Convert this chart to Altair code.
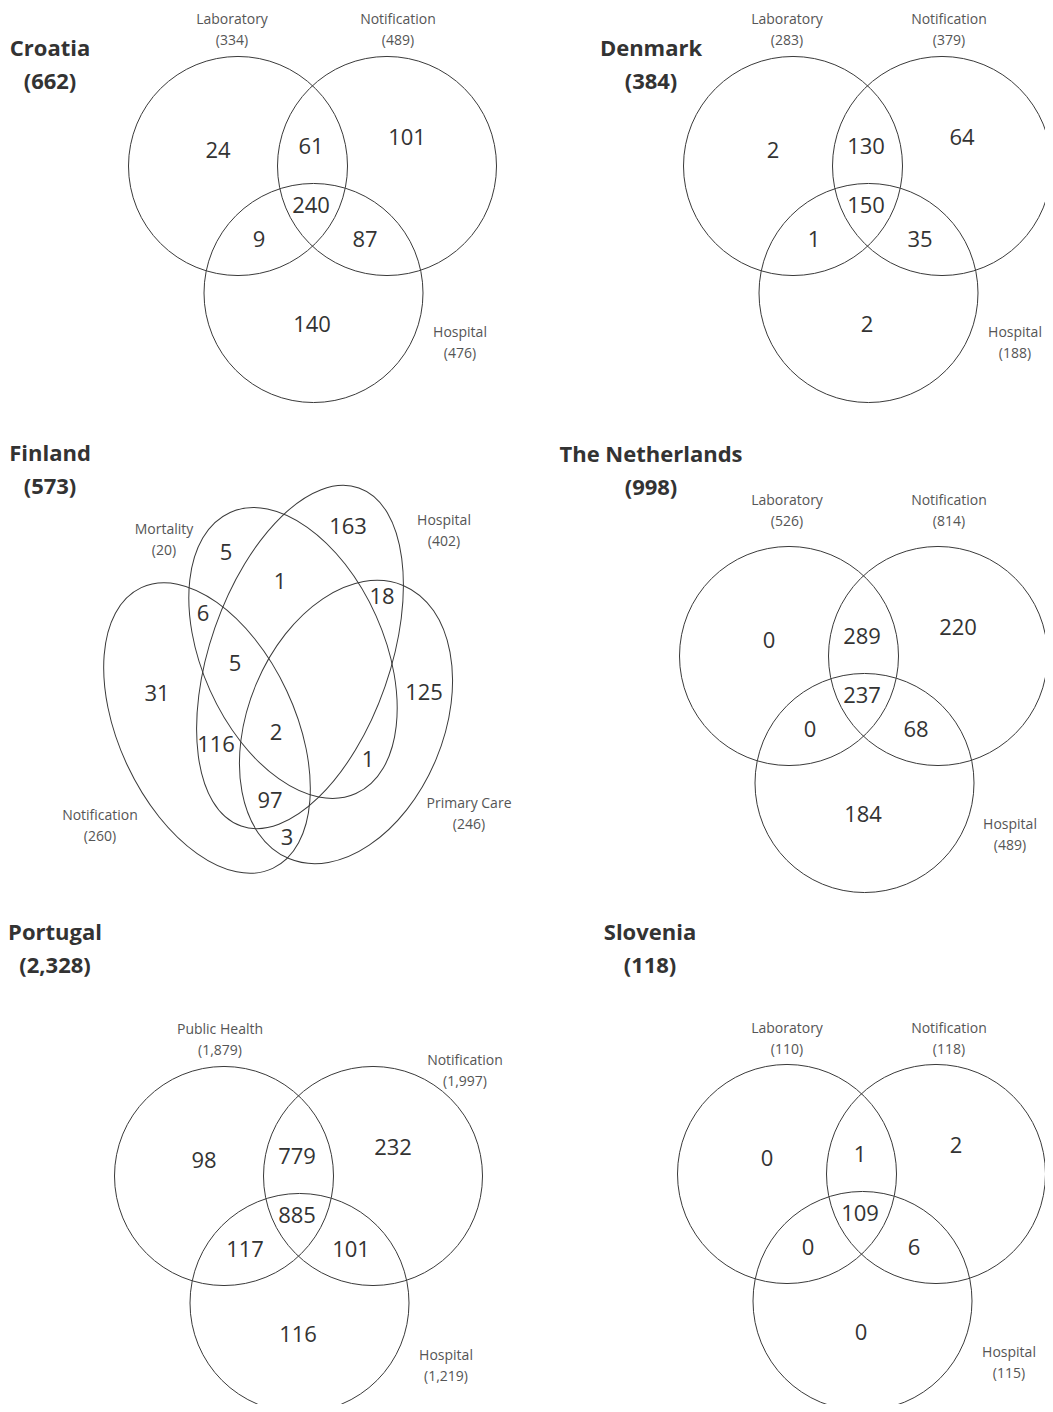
import altair as alt
import pandas as pd

# ---------------- data ----------------
countries = ["Croatia", "Denmark", "Finland", "The Netherlands", "Portugal", "Slovenia"]
country_totals = [662, 384, 573, 998, 2328, 118]

# three-set panels: regions ordered A only, A&B, B only, A&B&C, A&C, B&C, C only
croatia_sets = ["Laboratory", "Notification", "Hospital"]
croatia_set_sizes = [334, 489, 476]
croatia_regions = [24, 61, 101, 240, 9, 87, 140]

denmark_sets = ["Laboratory", "Notification", "Hospital"]
denmark_set_sizes = [283, 379, 188]
denmark_regions = [2, 130, 64, 150, 1, 35, 2]

netherlands_sets = ["Laboratory", "Notification", "Hospital"]
netherlands_set_sizes = [526, 814, 489]
netherlands_regions = [0, 289, 220, 237, 0, 68, 184]

portugal_sets = ["Public Health", "Notification", "Hospital"]
portugal_set_sizes = [1879, 1997, 1219]
portugal_regions = [98, 779, 232, 885, 117, 101, 116]

slovenia_sets = ["Laboratory", "Notification", "Hospital"]
slovenia_set_sizes = [110, 118, 115]
slovenia_regions = [0, 1, 2, 109, 0, 6, 0]

# four-set panel
finland_sets = ["Mortality", "Hospital", "Notification", "Primary Care"]
finland_set_sizes = [20, 402, 260, 246]
finland_regions = [5, 163, 1, 18, 6, 5, 31, 125, 2, 116, 1, 97, 3]

# ---------------- layout (page pixels) ----------------
COL_X = [8, 530]
COL_W = [522, 515]
ROW_Y = [8, 425, 905]
ROW_H = [417, 480, 499]

FONT = "Open Sans"
LINE = "#3a3a3a"
NUM_COLOR = "#333333"
LAB_COLOR = "#555555"
TITLE_COLOR = "#333333"

R3 = 109.5
CIRCLE_OFFSETS = [(0, 0), (149, 0), (75.5, 127)]
REGION_OFFSETS = [(-20, -15), (73, -19), (169, -28), (73, 40), (21, 74), (127, 74), (74, 159)]
LABEL_GAP = 20.5
TITLE_GAP = 33

three_layouts = {
    "Croatia": dict(cell=(0, 0), anchor=(238, 166),
                    labels=[(232, 20), (398, 20), (460, 333)], title=(50, 49)),
    "Denmark": dict(cell=(0, 1), anchor=(793, 166),
                    labels=[(787, 20), (949, 20), (1015, 333)], title=(651, 49)),
    "The Netherlands": dict(cell=(1, 1), anchor=(789, 656),
                            labels=[(787, 501), (949, 501), (1010, 825)], title=(651, 455)),
    "Portugal": dict(cell=(2, 0), anchor=(224, 1176),
                     labels=[(220, 1030), (465, 1061), (446, 1356)], title=(55, 933)),
    "Slovenia": dict(cell=(2, 1), anchor=(787, 1174),
                     labels=[(787, 1029), (949, 1029), (1009, 1353)], title=(650, 933)),
}

finland_layout = dict(
    cell=(1, 0),
    # centre x, centre y, semi-major, semi-minor, rotation (deg)
    ellipses=[(293, 653, 154, 91, 65.9),
              (300, 657, 179, 90, 109.2),
              (207, 728, 155, 88, 64.9),
              (346, 722, 148, 97.5, 112.7)],
    labels=[(164, 530), (444, 521), (100, 816), (469, 804)],
    regions=[(226, 553), (348, 527), (280, 582), (382, 597), (203, 614), (235, 664),
             (157, 694), (424, 693), (276, 733), (216, 745), (368, 760), (270, 801),
             (287, 838)],
    title=(50, 454),
)


def ellipse_path(ratio):
    k = 0.5523
    r = ratio
    kr = k * r
    return (f"M 1 0 C 1 {kr:.4f} {k} {r:.4f} 0 {r:.4f} "
            f"C {-k} {r:.4f} -1 {kr:.4f} -1 0 "
            f"C -1 {-kr:.4f} {-k} {-r:.4f} 0 {-r:.4f} "
            f"C {k} {-r:.4f} 1 {-kr:.4f} 1 0 Z")


def fmt(v):
    return f"{v:,}"


def build_panel(width, height, shapes, numbers, labels, titles):
    xs = alt.Scale(domain=[0, width], nice=False, zero=False)
    ys = alt.Scale(domain=[0, height], nice=False, zero=False, reverse=True)
    X = alt.X("x:Q", scale=xs, axis=None)
    Y = alt.Y("y:Q", scale=ys, axis=None)
    outline = alt.Chart(pd.DataFrame(shapes)).mark_point(
        filled=False, stroke=LINE, strokeWidth=1, opacity=1, clip=True
    ).encode(
        x=X, y=Y,
        size=alt.Size("size:Q", scale=None),
        shape=alt.Shape("shape:N", scale=None),
        angle=alt.Angle("angle:Q", scale=None),
    )
    nums = alt.Chart(pd.DataFrame(numbers)).mark_text(
        font=FONT, fontSize=22, color=NUM_COLOR, align="center", baseline="middle"
    ).encode(x=X, y=Y, text="text:N")
    labs = alt.Chart(pd.DataFrame(labels)).mark_text(
        font=FONT, fontSize=14, color=LAB_COLOR, align="center", baseline="middle"
    ).encode(x=X, y=Y, text="text:N")
    ttl = alt.Chart(pd.DataFrame(titles)).mark_text(
        font=FONT, fontSize=22, fontWeight="bold", color=TITLE_COLOR,
        align="center", baseline="middle"
    ).encode(x=X, y=Y, text="text:N")
    return alt.layer(outline, nums, labs, ttl).properties(width=width, height=height)


def title_rows(name, total, pos, ox, oy):
    return [dict(x=pos[0] - ox, y=pos[1] - oy, text=name),
            dict(x=pos[0] - ox, y=pos[1] - oy + TITLE_GAP, text=f"({fmt(total)})")]


def label_rows(names, sizes, positions, ox, oy):
    rows = []
    for n, s, (lx, ly) in zip(names, sizes, positions):
        rows.append(dict(x=lx - ox, y=ly - oy, text=n))
        rows.append(dict(x=lx - ox, y=ly - oy + LABEL_GAP, text=f"({fmt(s)})"))
    return rows


def three_panel(name, total, sets, sizes, regions):
    lay = three_layouts[name]
    r, c = lay["cell"]
    ox, oy = COL_X[c], ROW_Y[r]
    ax, ay = lay["anchor"]
    shapes = [dict(x=ax + dx - ox, y=ay + dy - oy, size=(2 * R3) ** 2, shape="circle", angle=0)
              for dx, dy in CIRCLE_OFFSETS]
    numbers = [dict(x=ax + dx - ox, y=ay + dy - oy, text=fmt(v))
               for v, (dx, dy) in zip(regions, REGION_OFFSETS)]
    labels = label_rows(sets, sizes, lay["labels"], ox, oy)
    titles = title_rows(name, total, lay["title"], ox, oy)
    return build_panel(COL_W[c], ROW_H[r], shapes, numbers, labels, titles)


def finland_panel(total):
    lay = finland_layout
    r, c = lay["cell"]
    ox, oy = COL_X[c], ROW_Y[r]
    shapes = [dict(x=cx - ox, y=cy - oy, size=(2 * a) ** 2, shape=ellipse_path(b / a), angle=ang)
              for cx, cy, a, b, ang in lay["ellipses"]]
    numbers = [dict(x=px - ox, y=py - oy, text=fmt(v))
               for v, (px, py) in zip(finland_regions, lay["regions"])]
    labels = label_rows(finland_sets, finland_set_sizes, lay["labels"], ox, oy)
    titles = title_rows("Finland", total, lay["title"], ox, oy)
    return build_panel(COL_W[c], ROW_H[r], shapes, numbers, labels, titles)


totals = dict(zip(countries, country_totals))
panels = [
    three_panel("Croatia", totals["Croatia"], croatia_sets, croatia_set_sizes, croatia_regions),
    three_panel("Denmark", totals["Denmark"], denmark_sets, denmark_set_sizes, denmark_regions),
    finland_panel(totals["Finland"]),
    three_panel("The Netherlands", totals["The Netherlands"], netherlands_sets,
                netherlands_set_sizes, netherlands_regions),
    three_panel("Portugal", totals["Portugal"], portugal_sets, portugal_set_sizes, portugal_regions),
    three_panel("Slovenia", totals["Slovenia"], slovenia_sets, slovenia_set_sizes, slovenia_regions),
]

chart = alt.concat(*panels, columns=2, spacing=0, bounds="flush", align="each").properties(
    padding=0
).configure_view(stroke=None)

chart.save("out.html", embed_options={"renderer": "svg", "actions": False})
